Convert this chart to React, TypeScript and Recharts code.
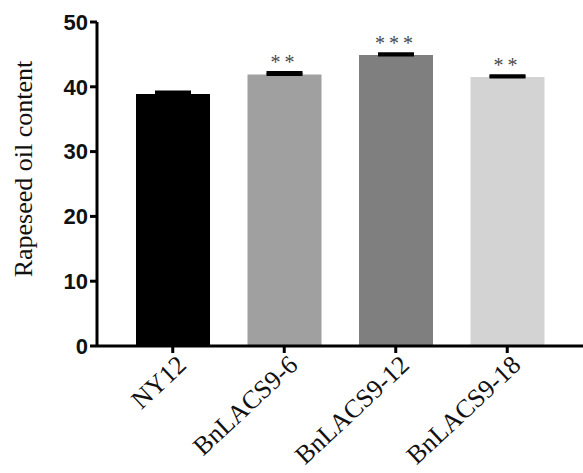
import { BarChart, Bar, XAxis, YAxis, Cell, ErrorBar, LabelList, Label } from "recharts";

const lines = ["NY12", "BnLACS9-6", "BnLACS9-12", "BnLACS9-18"];
const oilContent = [38.9, 41.9, 44.9, 41.5];
const sem = [0.3, 0.3, 0.2, 0.2];
const stars = ["", "**", "***", "**"];
const fills = ["#000000", "#a0a0a0", "#7f7f7f", "#d3d3d3"];
const yTicks = [0, 10, 20, 30, 40, 50];

const data = lines.map((name, i) => ({
  name,
  value: oilContent[i],
  err: [0, sem[i]],
  sig: stars[i],
}));

const XTick = (props: any) => {
  const { x, y, payload } = props;
  return (
    <g transform={`translate(${x + 15},${y + 12})`}>
      <text
        transform="rotate(-43)"
        textAnchor="end"
        fontFamily="'Liberation Serif', 'Times New Roman', serif"
        fontSize={26}
        fill="#111"
      >
        {payload.value}
      </text>
    </g>
  );
};

const StarLabel = (props: any) => {
  const { x, y, width, value } = props;
  if (!value) return null;
  return (
    <text
      x={x + width / 2}
      y={y - 5}
      textAnchor="middle"
      fontFamily="'Liberation Serif', 'Times New Roman', serif"
      fontSize={20}
      letterSpacing={4}
      fill="#4a4a4a"
    >
      {value}
    </text>
  );
};

export default function App() {
  return (
    <div style={{ width: 583, height: 473, background: "#fff" }}>
      <style>{`body{margin:0}`}</style>
      <BarChart
        width={583}
        height={473}
        data={data}
        margin={{ top: 22, right: 0, left: 0, bottom: 0 }}
      >
        <XAxis
          dataKey="name"
          height={127}
          padding={{ left: 20, right: 20 }}
          axisLine={{ stroke: "#000", strokeWidth: 3 }}
          tickLine={{ stroke: "#000", strokeWidth: 3 }}
          tickSize={7}
          tick={(p: any) => <XTick {...p} />}
          interval={0}
        />
        <YAxis
          width={97}
          domain={[0, 50]}
          ticks={yTicks}
          allowDataOverflow
          axisLine={{ stroke: "#000", strokeWidth: 3 }}
          tickLine={{ stroke: "#000", strokeWidth: 3 }}
          tickSize={7}
          tick={{
            fill: "#111",
            fontSize: 22,
            fontWeight: 700,
            fontFamily: "'Liberation Sans', Arial, sans-serif",
          }}
        >
          <Label
            content={() => (
              <text
                x={32}
                y={169}
                transform="rotate(-90 32 169)"
                textAnchor="middle"
                fontFamily="'Liberation Serif', 'Times New Roman', serif"
                fontSize={26}
                fill="#111"
              >
                Rapeseed oil content
              </text>
            )}
          />
        </YAxis>
        <Bar dataKey="value" barSize={74} isAnimationActive={false}>
          {data.map((d, i) => (
            <Cell key={d.name} fill={fills[i]} />
          ))}
          <ErrorBar dataKey="err" width={18} stroke="#000" strokeWidth={3} isAnimationActive={false} />
          <LabelList dataKey="sig" content={<StarLabel />} />
        </Bar>
      </BarChart>
    </div>
  );
}
